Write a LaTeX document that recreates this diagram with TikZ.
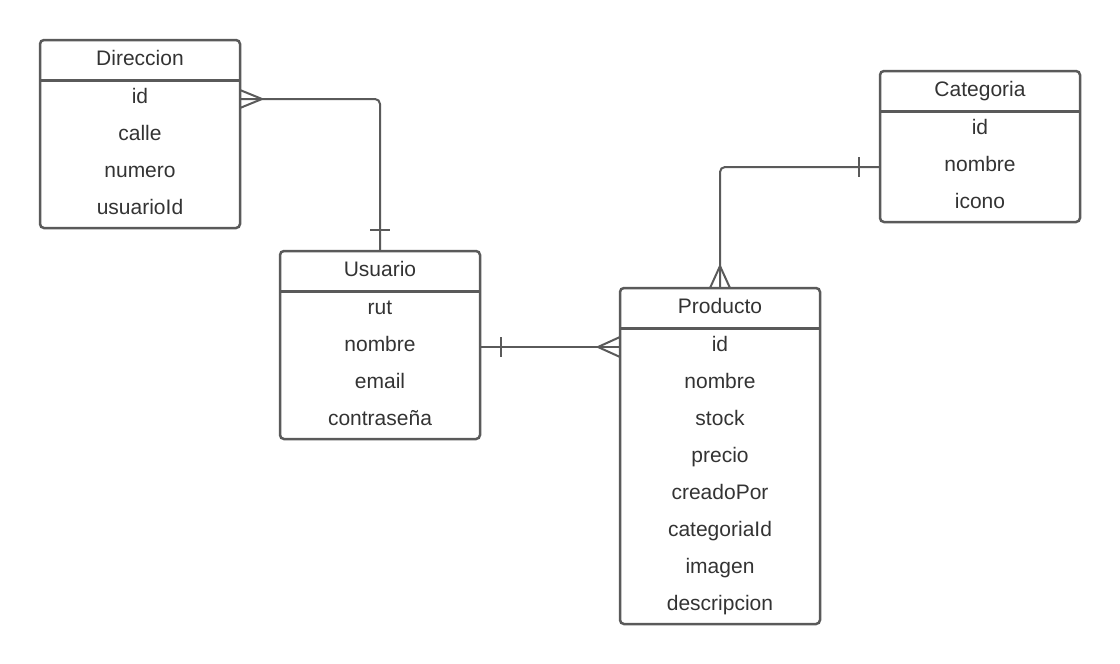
\documentclass[tikz,border=0pt]{standalone}
\usepackage{fontspec}
\setmainfont{Liberation Sans}
\usetikzlibrary{calc}
\definecolor{ln}{HTML}{5A5A5A}
\definecolor{tx}{HTML}{333333}
\begin{document}
\begin{tikzpicture}[x=1pt,y=-1pt,
  tbl/.style={draw=ln, line width=2.5pt, rounded corners=4pt, outer sep=0pt, inner sep=0pt, anchor=north west, minimum width=200pt},
  div/.style={draw=ln, line width=3pt},
  txt/.style={anchor=base, text=tx, inner sep=0pt, font=\fontsize{21pt}{25pt}\selectfont},
  conn/.style={draw=ln, line width=2pt}]
\useasboundingbox (0,0) rectangle (1120,664);

% tables
\node[tbl, minimum height=188pt] (dir) at (40,40) {};
\node[tbl, minimum height=188pt] (usu) at (280,251) {};
\node[tbl, minimum height=336pt] (prod) at (620,288) {};
\node[tbl, minimum height=151pt] (cat) at (880,71) {};

\foreach \n in {dir,usu,prod,cat}
  \draw[div] ($(\n.north west)+(0,40.5)$) -- ($(\n.north east)+(0,40.5)$);

% headers
\node[txt] (dir-h) at ($(dir.north)+(0,25)$) {Direccion};
\node[txt] (usu-h) at ($(usu.north)+(0,25)$) {Usuario};
\node[txt] (prod-h) at ($(prod.north)+(0,25)$) {Producto};
\node[txt] (cat-h) at ($(cat.north)+(0,25)$) {Categoria};

% rows
\foreach \t [count=\i] in {id,calle,numero,usuarioId}
  \node[txt] (dir-\i) at ($(dir.north)+(0,26+37*\i)$) {\t};
\foreach \t [count=\i] in {rut,nombre,email,contraseña}
  \node[txt] (usu-\i) at ($(usu.north)+(0,26+37*\i)$) {\t};
\foreach \t [count=\i] in {id,nombre,stock,precio,creadoPor,categoriaId,imagen,descripcion}
  \node[txt] (prod-\i) at ($(prod.north)+(0,26+37*\i)$) {\t};
\foreach \t [count=\i] in {id,nombre,icono}
  \node[txt] (cat-\i) at ($(cat.north)+(0,26+37*\i)$) {\t};

% connector Direccion -- Usuario
\coordinate (a1) at ($(dir.north east)+(0,59)$);
\draw[conn, rounded corners=5pt] (a1) -- (a1 -| usu.north) -- (usu.north);
\draw[conn] ($(a1)+(0,-9)$) -- ($(a1)+(22,0)$) -- ($(a1)+(0,9)$);
\draw[conn] ($(usu.north)+(-10,-21)$) -- ($(usu.north)+(10,-21)$);

% connector Usuario -- Producto
\coordinate (a2) at ($(usu.north east)+(0,96)$);
\draw[conn] (a2) -- (a2 -| prod.west);
\draw[conn] ($(a2)+(21,-10)$) -- ($(a2)+(21,10)$);
\coordinate (b2) at (a2 -| prod.west);
\draw[conn] ($(b2)+(0,-10)$) -- ($(b2)+(-22,0)$) -- ($(b2)+(0,10)$);

% connector Categoria -- Producto
\coordinate (a3) at ($(cat.north west)+(0,96)$);
\draw[conn, rounded corners=5pt] (a3) -- (a3 -| prod.north) -- (prod.north);
\draw[conn] ($(a3)+(-21,-10)$) -- ($(a3)+(-21,10)$);
\draw[conn] ($(prod.north)+(-10,0)$) -- ($(prod.north)+(0,-22)$) -- ($(prod.north)+(10,0)$);
\end{tikzpicture}
\end{document}
